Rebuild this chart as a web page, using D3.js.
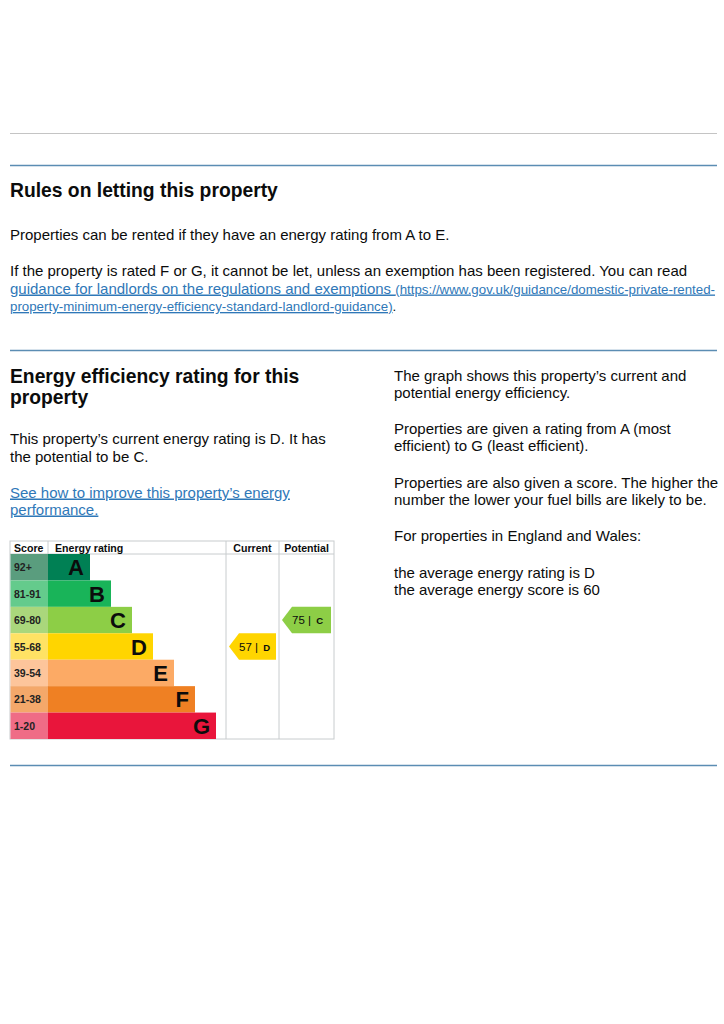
<!DOCTYPE html>
<html>
<head>
<meta charset="utf-8">
<script src="https://cdn.jsdelivr.net/npm/d3@7"></script>
<style>
    body { margin: 0; background: #fff; }
    svg { display: block; font-family: "Liberation Sans", Arial, sans-serif; }
</style>
</head>
<body>
<div id="page"></div>
<script>
'use strict';

// energy bands, best to worst
const bands = ['A', 'B', 'C', 'D', 'E', 'F', 'G'];
const scoreLabels = ['92+', '81-91', '69-80', '55-68', '39-54', '21-38', '1-20'];
const scoreMins = [92, 81, 69, 55, 39, 21, 1];
const bandColors = ['#008054', '#19b459', '#8dce46', '#ffd500', '#fcaa65', '#ef8023', '#e9153b'];
const scoreColors = ['#5a9d7e', '#64cb8c', '#aad77c', '#ffe264', '#fdc59b', '#f4a86a', '#ef6c86'];

// ratings shown in the chart
const ratingColumns = ['Current', 'Potential'];
const ratingScores = [57, 75];

// page text
const rulesLines = [
    'Properties can be rented if they have an energy rating from A to E.'
];
const infoLines = [
    ['The graph shows this property\u2019s current and', 'potential energy efficiency.'],
    ['Properties are given a rating from A (most', 'efficient) to G (least efficient).'],
    ['Properties are also given a score. The higher the', 'number the lower your fuel bills are likely to be.'],
    ['For properties in England and Wales:'],
    ['the average energy rating is D', 'the average energy score is 60']
];

function bandOf(score) {
    return scoreMins.findIndex(m => score >= m);
}

const W = 724, H = 1024;
const svg = d3.select('#page').append('svg')
    .attr('width', W)
    .attr('height', H);

const ink = '#0b0c0c';
const link = '#2f78b8';

// separators
svg.append('line').attr('x1', 10).attr('x2', 717).attr('y1', 133.5).attr('y2', 133.5)
    .attr('stroke', '#c4c4c4').attr('stroke-width', 1.2);
[165.5, 350.5, 765.5].forEach(y => {
    svg.append('line').attr('x1', 10).attr('x2', 717).attr('y1', y).attr('y2', y)
        .attr('stroke', '#5b8db3').attr('stroke-width', 1.3);
});

// ---- Rules section
svg.append('text').attr('x', 10).attr('y', 197)
    .attr('font-size', 19.3).attr('font-weight', 'bold').attr('fill', ink)
    .text('Rules on letting this property');

svg.append('text').attr('x', 10).attr('y', 239.5)
    .attr('font-size', 15).attr('fill', ink)
    .text(rulesLines[0]);

svg.append('text').attr('x', 10).attr('y', 275.5)
    .attr('font-size', 15).attr('fill', ink)
    .text('If the property is rated F or G, it cannot be let, unless an exemption has been registered. You can read');

const l2 = svg.append('text').attr('x', 10).attr('y', 293.5).attr('fill', link)
    .attr('text-decoration', 'underline');
l2.append('tspan').attr('font-size', 15).text('guidance for landlords on the regulations and exemptions ');
l2.append('tspan').attr('font-size', 13.3).text('(https://www.gov.uk/guidance/domestic-private-rented-');

const l3 = svg.append('text').attr('x', 10).attr('y', 311).attr('font-size', 13.3);
l3.append('tspan').attr('fill', link).attr('text-decoration', 'underline')
    .text('property-minimum-energy-efficiency-standard-landlord-guidance)');
l3.append('tspan').attr('fill', ink).text('.');

// ---- Energy efficiency section (left)
const head = svg.append('text').attr('font-size', 19.3).attr('font-weight', 'bold').attr('fill', ink);
head.append('tspan').attr('x', 10).attr('y', 383).text('Energy efficiency rating for this');
head.append('tspan').attr('x', 10).attr('y', 404).text('property');

const cur = svg.append('text').attr('font-size', 15).attr('fill', ink);
cur.append('tspan').attr('x', 10).attr('y', 443.5).text('This property\u2019s current energy rating is D. It has');
cur.append('tspan').attr('x', 10).attr('y', 461.5).text('the potential to be C.');

const imp = svg.append('text').attr('font-size', 15).attr('fill', link).attr('text-decoration', 'underline');
imp.append('tspan').attr('x', 10).attr('y', 497.5).text('See how to improve this property\u2019s energy');
imp.append('tspan').attr('x', 10).attr('y', 514.5).text('performance.');

// ---- right column
let yy = 380.5;
infoLines.forEach(block => {
    const t = svg.append('text').attr('font-size', 15).attr('fill', ink);
    block.forEach((s, i) => {
        t.append('tspan').attr('x', 394).attr('y', yy + i * 17).text(s);
    });
    yy += block.length * 17 + 19.5;
});

// ---- EPC chart
const chart = {left: 10, top: 541, headH: 13, right: 334, bottom: 739};
const scoreRight = 48, curLeft = 226, potLeft = 279;

const y = d3.scaleBand()
    .domain(bands)
    .range([chart.top + chart.headH, chart.bottom]);

// bar ends step out band by band
const barEnd = d3.scaleLinear()
    .domain([0, bands.length - 1])
    .range([90, 216]);

const g = svg.append('g');

// frame
g.append('rect')
    .attr('x', chart.left).attr('y', chart.top)
    .attr('width', chart.right - chart.left).attr('height', chart.bottom - chart.top)
    .attr('fill', '#fff').attr('stroke', '#c8ccce').attr('stroke-width', 1);
g.append('line')
    .attr('x1', chart.left).attr('x2', chart.right)
    .attr('y1', chart.top + chart.headH).attr('y2', chart.top + chart.headH)
    .attr('stroke', '#c8ccce');
[scoreRight, curLeft, potLeft].forEach(x => {
    g.append('line').attr('x1', x).attr('x2', x)
        .attr('y1', chart.top).attr('y2', chart.bottom)
        .attr('stroke', '#c8ccce');
});

// header
const hdr = [
    {t: 'Score', x: 14},
    {t: 'Energy rating', x: 55},
    {t: 'Current', x: (curLeft + potLeft) / 2, a: 'middle'},
    {t: 'Potential', x: (potLeft + chart.right) / 2, a: 'middle'}
];
g.selectAll('.hdr')
    .data(hdr)
    .join('text')
    .attr('class', 'hdr')
    .attr('x', d => d.x)
    .attr('y', chart.top + 10.5)
    .attr('text-anchor', d => d.a || 'start')
    .attr('font-size', 10.6)
    .attr('font-weight', 'bold')
    .attr('fill', ink)
    .text(d => d.t);

// score cells
g.selectAll('.scoreCell')
    .data(bands)
    .join('rect')
    .attr('class', 'scoreCell')
    .attr('x', chart.left + 0.5)
    .attr('y', d => y(d))
    .attr('width', scoreRight - chart.left - 0.5)
    .attr('height', y.bandwidth())
    .attr('fill', (d, i) => scoreColors[i]);

g.selectAll('.scoreLbl')
    .data(bands)
    .join('text')
    .attr('class', 'scoreLbl')
    .attr('x', 14)
    .attr('y', d => y(d) + y.bandwidth() / 2 + 4)
    .attr('font-size', 10.5)
    .attr('font-weight', 'bold')
    .attr('fill', '#222')
    .text((d, i) => scoreLabels[i]);

// band bars
g.selectAll('.bar')
    .data(bands)
    .join('rect')
    .attr('class', 'bar')
    .attr('x', scoreRight)
    .attr('y', d => y(d))
    .attr('width', (d, i) => barEnd(i) - scoreRight)
    .attr('height', y.bandwidth())
    .attr('fill', (d, i) => bandColors[i]);

g.selectAll('.barLbl')
    .data(bands)
    .join('text')
    .attr('class', 'barLbl')
    .attr('x', (d, i) => barEnd(i) - 6)
    .attr('y', d => y(d) + y.bandwidth() / 2 + 8)
    .attr('text-anchor', 'end')
    .attr('font-size', 22)
    .attr('font-weight', 'bold')
    .attr('fill', ink)
    .text(d => d);

// rating arrows
const colLeft = [curLeft, potLeft];
const colRight = [potLeft, chart.right];
ratingScores.forEach((s, k) => {
    const bi = bandOf(s);
    const top = y(bands[bi]);
    const h = y.bandwidth();
    const x0 = colLeft[k] + 3, x1 = colRight[k] - 3;
    const tip = 10;
    g.append('path')
        .attr('d', `M${x0},${top + h / 2} L${x0 + tip},${top} L${x1},${top} L${x1},${top + h} L${x0 + tip},${top + h} Z`)
        .attr('fill', bandColors[bi]);
    const t = g.append('text')
        .attr('x', x0 + tip)
        .attr('y', top + h / 2 + 4)
        .attr('fill', ink);
    t.append('tspan').attr('font-size', 11.5).text(`${s} | `);
    t.append('tspan').attr('font-size', 9.5).attr('font-weight', 'bold').attr('dx', 2).text(bands[bi]);
});
</script>
</body>
</html>
